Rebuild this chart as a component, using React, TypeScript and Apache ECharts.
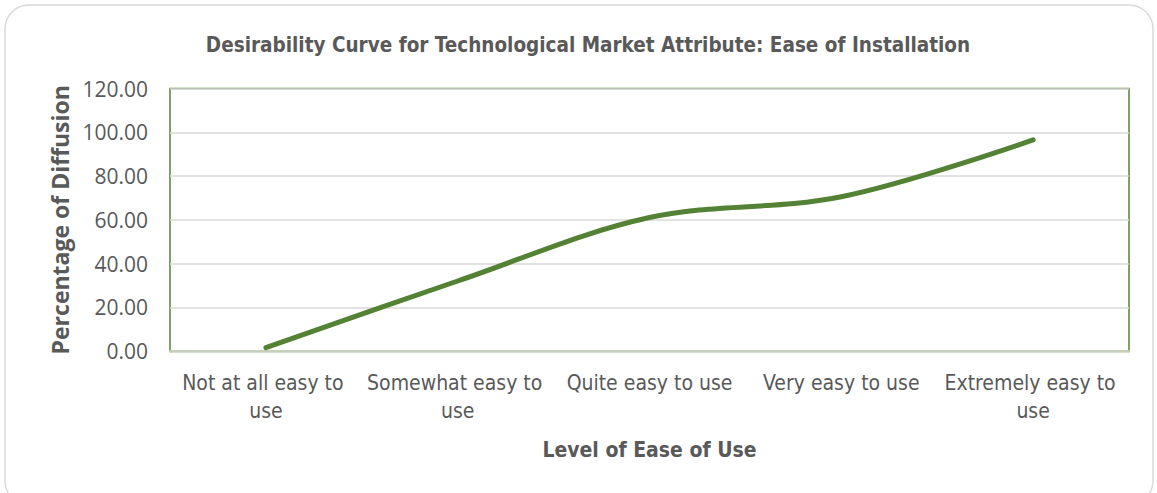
import React, { useEffect, useRef } from "react";
import * as echarts from "echarts";

const categories = [
  "Not at all easy to use",
  "Somewhat easy to use",
  "Quite easy to use",
  "Very easy to use",
  "Extremely easy to use",
];
const diffusion = [1.5, 32, 61, 70.5, 96.5];
const yTicks = { min: 0, max: 120, interval: 20 };

const TITLE_FONT = "'Liberation Sans Narrow', 'DejaVu Sans Condensed', 'Liberation Sans', sans-serif";
const BODY_FONT = "'Open Sans', 'Noto Sans', sans-serif";

export default function App() {
  const ref = useRef<HTMLDivElement>(null);
  useEffect(() => {
    const chart = echarts.init(ref.current!, null, { renderer: "svg" });
    chart.setOption({
      animation: false,
      backgroundColor: "#ffffff",
      title: {
        text: "Desirability Curve for Technological Market Attribute: Ease of Installation",
        left: 583,
        top: 29,
        textAlign: "center",
        textStyle: {
          fontFamily: TITLE_FONT,
          fontSize: 20.5,
          fontWeight: "bold",
          color: "#595959",
        },
      },
      graphic: [
        {
          type: "rect",
          shape: { x: 5, y: 5, width: 1148, height: 500, r: 24 },
          style: { fill: "none", stroke: "#d9d9d9", lineWidth: 1.5 },
          silent: true,
          z: -1,
        },
      ],
      grid: {
        left: 170,
        right: 28,
        top: 88.5,
        bottom: 142,
        show: true,
        borderColor: "#548235",
        borderWidth: 1.5,
        backgroundColor: "transparent",
      },
      xAxis: {
        type: "category",
        data: categories,
        boundaryGap: true,
        name: "Level of Ease of Use",
        nameLocation: "middle",
        nameGap: 88,
        nameTextStyle: {
          fontFamily: TITLE_FONT,
          fontSize: 21,
          fontWeight: "bold",
          color: "#595959",
        },
        axisLine: { show: true, lineStyle: { color: "#c5d0bb", width: 2.5 } },
        axisTick: { show: false },
        axisLabel: {
          interval: 0,
          margin: 18,
          width: 188,
          overflow: "break",
          lineHeight: 28,
          fontFamily: TITLE_FONT,
          fontSize: 21,
          color: "#595959",
        },
      },
      yAxis: {
        type: "value",
        min: yTicks.min,
        max: yTicks.max,
        interval: yTicks.interval,
        name: "Percentage of Diffusion",
        nameLocation: "middle",
        nameGap: 94,
        nameTextStyle: {
          fontFamily: BODY_FONT,
          fontSize: 23,
          fontWeight: "bold",
          color: "#595959",
        },
        axisLine: { show: false },
        axisTick: { show: false },
        splitLine: { lineStyle: { color: "#d9d9d9", width: 1.5 } },
        axisLabel: {
          margin: 22,
          fontFamily: BODY_FONT,
          fontSize: 21,
          color: "#595959",
          formatter: (v: number) => v.toFixed(2),
        },
      },
      series: [
        {
          type: "line",
          data: diffusion,
          smooth: 0.35,
          symbol: "none",
          lineStyle: { color: "#548235", width: 5, cap: "round" },
        },
      ],
    });
    return () => chart.dispose();
  }, []);
  return (
    <div
      ref={ref}
      style={{ position: "fixed", left: 0, top: 0, width: 1157, height: 493 }}
    />
  );
}
